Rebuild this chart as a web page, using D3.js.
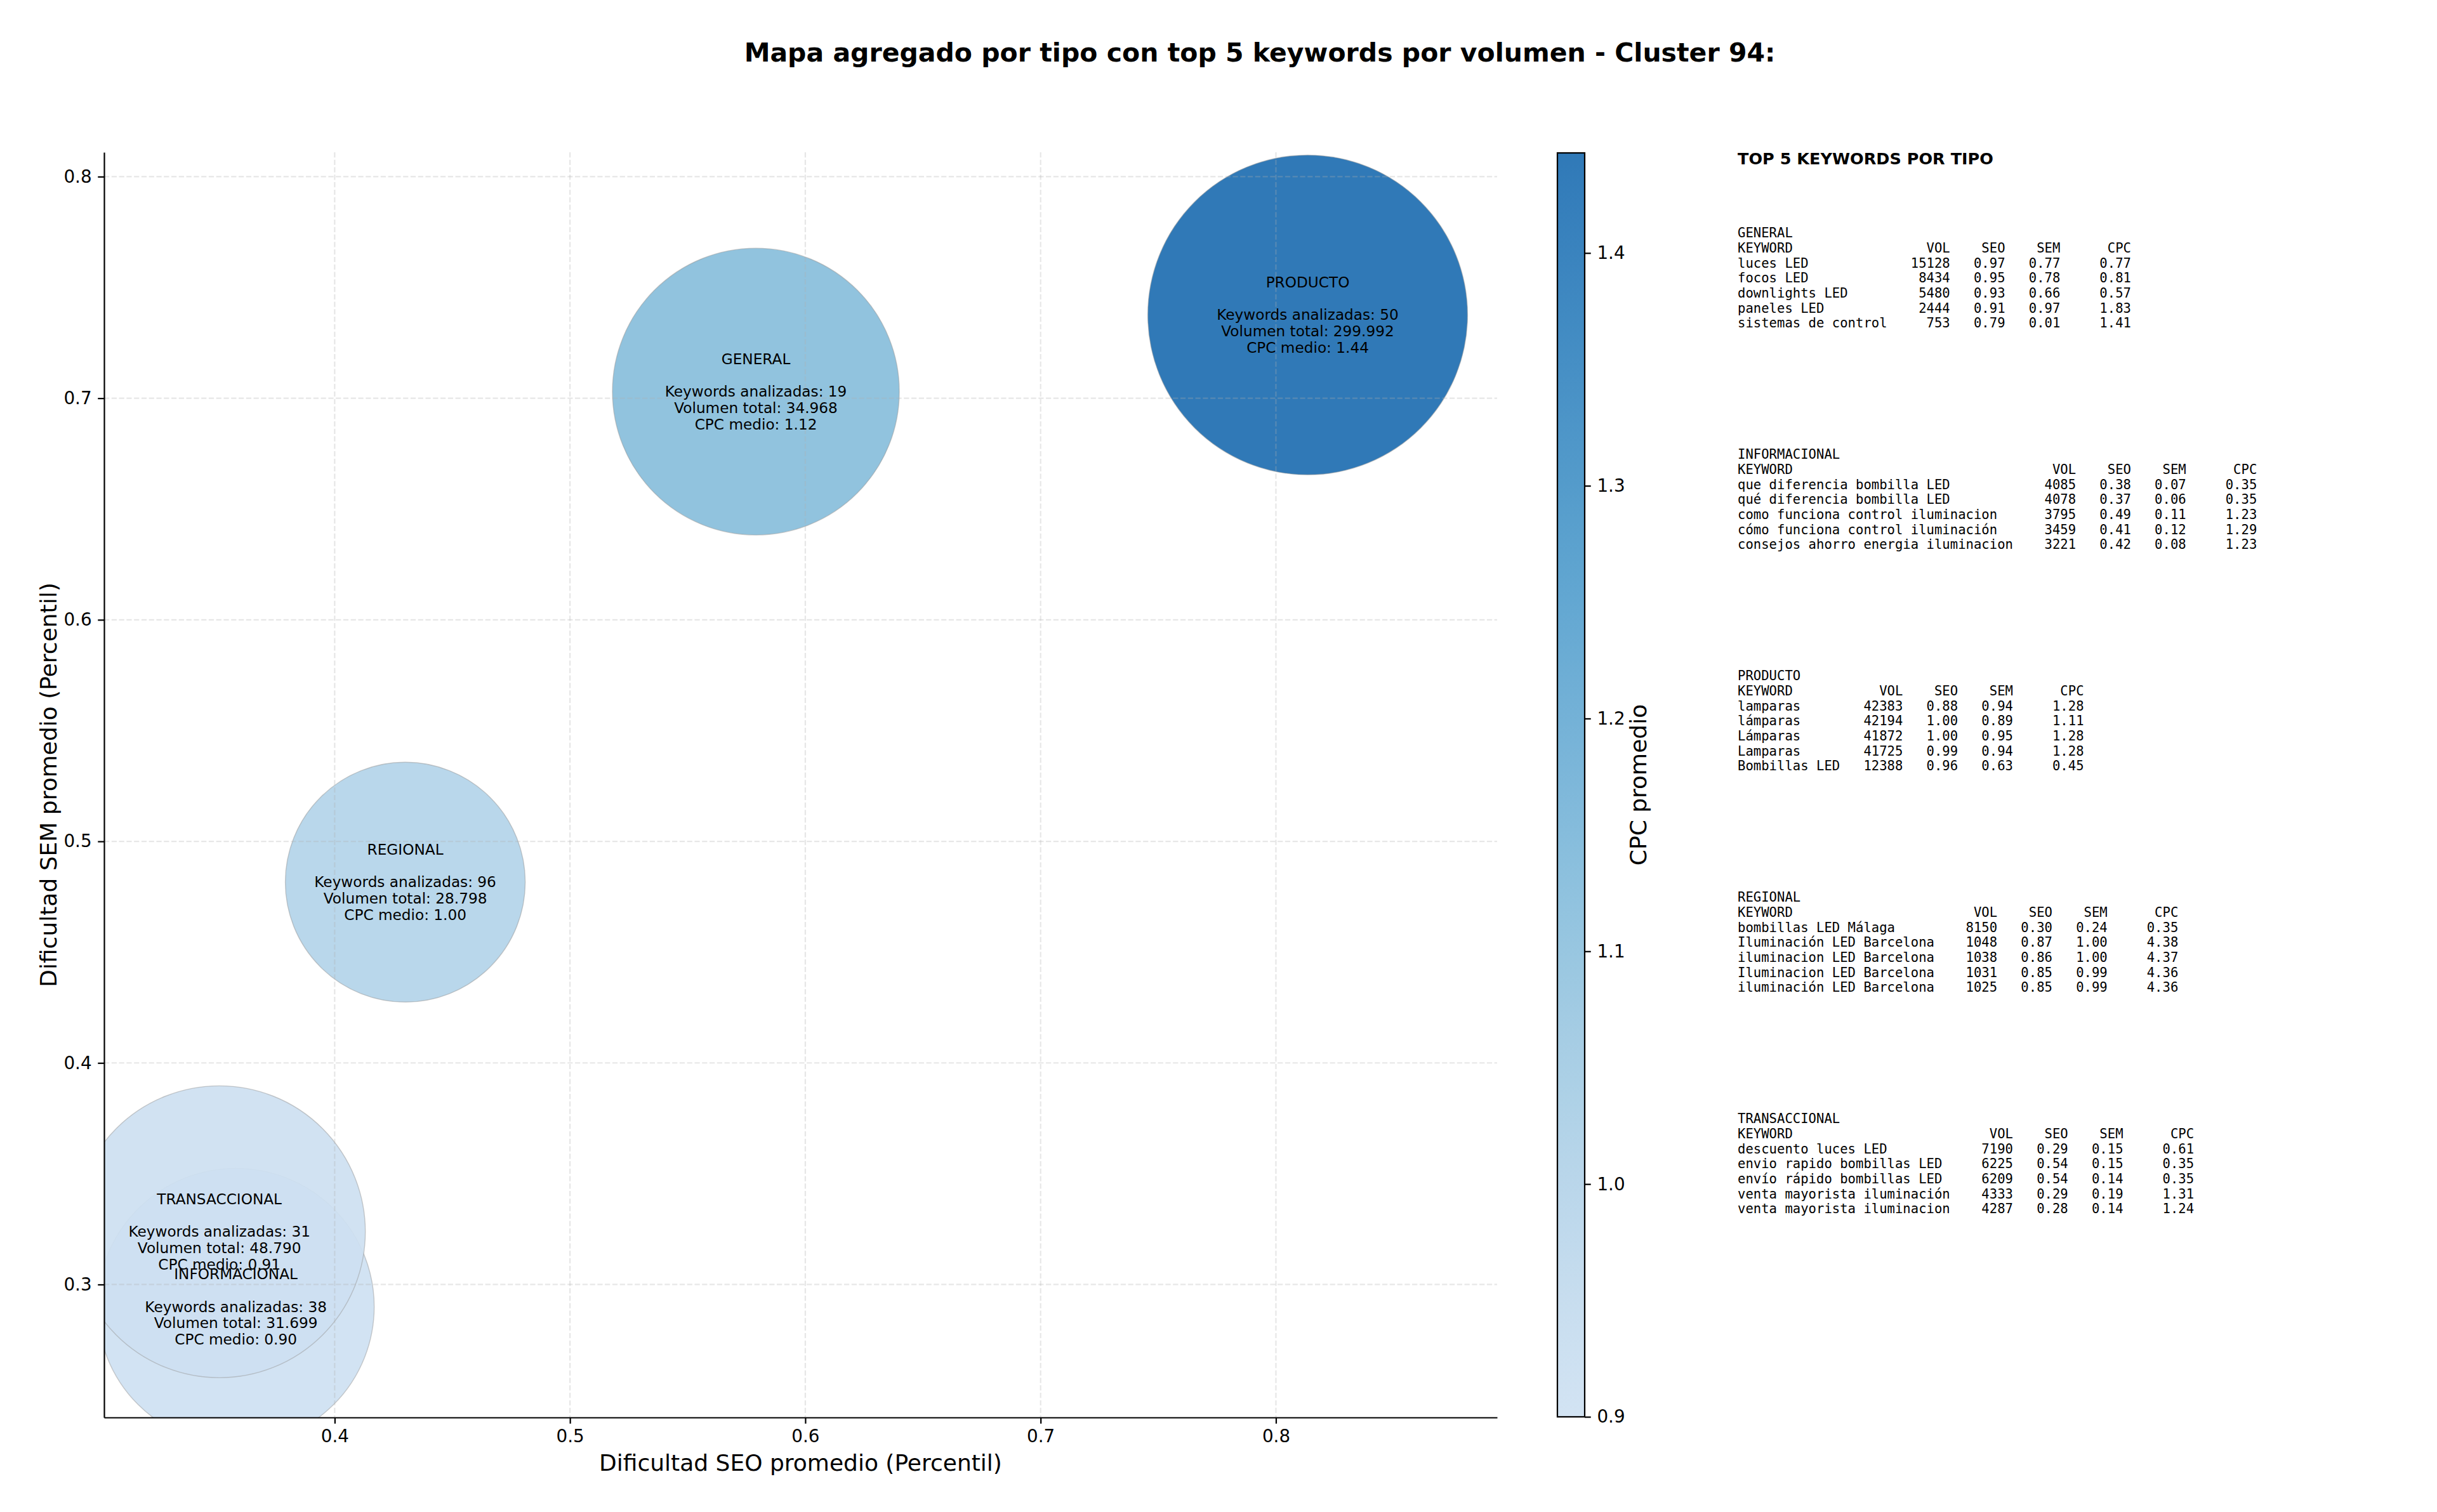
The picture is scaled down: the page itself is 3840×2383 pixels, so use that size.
<!DOCTYPE html>
<html>
<head>
<meta charset="utf-8">
<script src="https://cdn.jsdelivr.net/npm/d3@7"></script>
<style>
  body { margin: 0; background: #fff; }
  text { font-family: "DejaVu Sans", sans-serif; fill: #000; }
  .mono { font-family: "DejaVu Sans Mono", monospace; white-space: pre; }
</style>
</head>
<body>
<script>
// ---- datos agregados por tipo
var types = ["GENERAL", "INFORMACIONAL", "PRODUCTO", "REGIONAL", "TRANSACCIONAL"];
var seoAvg = [0.579, 0.358, 0.8135, 0.430, 0.351];
var semAvg = [0.703, 0.290, 0.7376, 0.4816, 0.3238];
var cpcAvg = [1.12, 0.90, 1.443, 1.00, 0.91];
var kwCount = [19, 38, 50, 96, 31];
var volTotal = [34968, 31699, 299992, 28798, 48790];
var bubbleSize = [26480, 24640, 32900, 18520, 27423]; // tamaño scatter (pt^2)

var xTicks = [0.4, 0.5, 0.6, 0.7, 0.8];
var yTicks = [0.3, 0.4, 0.5, 0.6, 0.7, 0.8];
var cbTicks = [0.9, 1.0, 1.1, 1.2, 1.3, 1.4];

// ---- top 5 keywords por tipo: [keyword, vol, seo, sem, cpc]
var topGeneral = [
  ["luces LED", 15128, 0.97, 0.77, 0.77],
  ["focos LED", 8434, 0.95, 0.78, 0.81],
  ["downlights LED", 5480, 0.93, 0.66, 0.57],
  ["paneles LED", 2444, 0.91, 0.97, 1.83],
  ["sistemas de control", 753, 0.79, 0.01, 1.41]
];
var topInformacional = [
  ["que diferencia bombilla LED", 4085, 0.38, 0.07, 0.35],
  ["qué diferencia bombilla LED", 4078, 0.37, 0.06, 0.35],
  ["como funciona control iluminacion", 3795, 0.49, 0.11, 1.23],
  ["cómo funciona control iluminación", 3459, 0.41, 0.12, 1.29],
  ["consejos ahorro energia iluminacion", 3221, 0.42, 0.08, 1.23]
];
var topProducto = [
  ["lamparas", 42383, 0.88, 0.94, 1.28],
  ["lámparas", 42194, 1.00, 0.89, 1.11],
  ["Lámparas", 41872, 1.00, 0.95, 1.28],
  ["Lamparas", 41725, 0.99, 0.94, 1.28],
  ["Bombillas LED", 12388, 0.96, 0.63, 0.45]
];
var topRegional = [
  ["bombillas LED Málaga", 8150, 0.30, 0.24, 0.35],
  ["Iluminación LED Barcelona", 1048, 0.87, 1.00, 4.38],
  ["iluminacion LED Barcelona", 1038, 0.86, 1.00, 4.37],
  ["Iluminacion LED Barcelona", 1031, 0.85, 0.99, 4.36],
  ["iluminación LED Barcelona", 1025, 0.85, 0.99, 4.36]
];
var topTransaccional = [
  ["descuento luces LED", 7190, 0.29, 0.15, 0.61],
  ["envio rapido bombillas LED", 6225, 0.54, 0.15, 0.35],
  ["envío rápido bombillas LED", 6209, 0.54, 0.14, 0.35],
  ["venta mayorista iluminación", 4333, 0.29, 0.19, 1.31],
  ["venta mayorista iluminacion", 4287, 0.28, 0.14, 1.24]
];
var topTables = [topGeneral, topInformacional, topProducto, topRegional, topTransaccional];

// ---- layout
var W = 3840, H = 2383;
var plot = {left: 164, right: 2359, top: 240, bottom: 2234};
var cbar = {left: 2454, right: 2497, top: 241, bottom: 2233};
var pt = 200 / 72;
var tickLen = 3.5 * pt, tickFont = 10 * pt, labelFont = 36;

var svg = d3.select("body").append("svg")
  .attr("width", W).attr("height", H);

var x = d3.scaleLinear().domain([0.302, 0.894]).range([plot.left, plot.right]);
var y = d3.scaleLinear().domain([0.240, 0.811]).range([plot.bottom, plot.top]);
var r = d3.scaleSqrt().domain([0, 1]).range([0, pt / 2]);
var cDomain = d3.extent(cpcAvg);
var colorT = d3.scaleLinear().domain(cDomain).range([0.2, 0.76]);
var color = function(v) { return d3.interpolateBlues(colorT(v)); };
var bubbleAlpha = 0.93;

var fmtVol = function(v) { return d3.format(",")(v).replace(/,/g, "."); };

svg.append("defs").append("clipPath").attr("id", "clip")
  .append("rect")
  .attr("x", plot.left).attr("y", plot.top)
  .attr("width", plot.right - plot.left).attr("height", plot.bottom - plot.top);

// burbujas
var rows = types.map(function(t, i) {
  return {type: t, seo: seoAvg[i], sem: semAvg[i], cpc: cpcAvg[i],
          n: kwCount[i], vol: volTotal[i], s: bubbleSize[i]};
});

svg.append("g").attr("clip-path", "url(#clip)")
  .selectAll("circle").data(rows).enter().append("circle")
  .attr("cx", function(d) { return x(d.seo); })
  .attr("cy", function(d) { return y(d.sem); })
  .attr("r", function(d) { return r(d.s); })
  .style("fill", function(d) { return color(d.cpc); })
  .style("fill-opacity", bubbleAlpha)
  .style("stroke", "#999")
  .style("stroke-opacity", 0.5)
  .style("stroke-width", 1.4);

// grid (encima de las burbujas, como matplotlib)
var grid = svg.append("g").attr("class", "grid");
grid.selectAll(".gx").data(xTicks).enter().append("line")
  .attr("x1", x).attr("x2", x).attr("y1", plot.top).attr("y2", plot.bottom);
grid.selectAll(".gy").data(yTicks).enter().append("line")
  .attr("y1", y).attr("y2", y).attr("x1", plot.left).attr("x2", plot.right);
grid.selectAll("line")
  .style("stroke", "#b0b0b0").style("stroke-opacity", 0.3)
  .style("stroke-width", 0.8 * pt).style("stroke-dasharray", (2.96 * pt) + "," + (1.28 * pt));

// etiquetas de burbujas
var lineH = 25.8;
rows.forEach(function(d) {
  var lines = [d.type, "", "Keywords analizadas: " + d.n,
               "Volumen total: " + fmtVol(d.vol), "CPC medio: " + d.cpc.toFixed(2)];
  var t = svg.append("text")
    .attr("text-anchor", "middle")
    .style("font-size", "23.2px");
  lines.forEach(function(l, j) {
    t.append("tspan")
      .attr("x", x(d.seo))
      .attr("y", y(d.sem) + (j - 2) * lineH)
      .attr("dy", "0.35em")
      .text(l);
  });
});

// ejes
function styleAxis(g) {
  g.select(".domain").style("stroke", "#000").style("stroke-width", 0.8 * pt);
  g.selectAll(".tick line").style("stroke", "#000").style("stroke-width", 0.8 * pt);
  g.selectAll(".tick text").style("font-family", "DejaVu Sans").style("font-size", tickFont + "px").style("fill", "#000");
}

svg.append("g")
  .attr("transform", "translate(0," + plot.bottom + ")")
  .call(d3.axisBottom(x).tickValues(xTicks).tickFormat(d3.format(".1f"))
        .tickSize(tickLen).tickSizeOuter(0).tickPadding(3.5 * pt))
  .call(styleAxis);

svg.append("g")
  .attr("transform", "translate(" + plot.left + ",0)")
  .call(d3.axisLeft(y).tickValues(yTicks).tickFormat(d3.format(".1f"))
        .tickSize(tickLen).tickSizeOuter(0).tickPadding(3.5 * pt))
  .call(styleAxis);

svg.append("text")
  .attr("x", (plot.left + plot.right) / 2).attr("y", 2305).attr("dy", "0.35em")
  .attr("text-anchor", "middle").style("font-size", labelFont + "px")
  .text("Dificultad SEO promedio (Percentil)");

svg.append("text")
  .attr("transform", "translate(76," + (plot.top + plot.bottom) / 2 + ") rotate(-90)")
  .attr("dy", "0.35em").attr("text-anchor", "middle").style("font-size", labelFont + "px")
  .text("Dificultad SEM promedio (Percentil)");

// barra de color
var cy = d3.scaleLinear().domain(cDomain).range([cbar.bottom, cbar.top]);
var grad = svg.select("defs").append("linearGradient")
  .attr("id", "cbgrad").attr("x1", 0).attr("x2", 0).attr("y1", 1).attr("y2", 0);
d3.range(0, 1.0001, 0.05).forEach(function(f) {
  grad.append("stop").attr("offset", f)
    .attr("stop-color", color(cDomain[0] + f * (cDomain[1] - cDomain[0])))
    .attr("stop-opacity", bubbleAlpha);
});
svg.append("rect")
  .attr("x", cbar.left).attr("y", cbar.top)
  .attr("width", cbar.right - cbar.left).attr("height", cbar.bottom - cbar.top)
  .style("fill", "url(#cbgrad)")
  .style("stroke", "#000").style("stroke-width", 0.8 * pt);

svg.append("g")
  .attr("transform", "translate(" + cbar.right + ",0)")
  .call(d3.axisRight(cy).tickValues(cbTicks).tickFormat(d3.format(".1f"))
        .tickSize(tickLen).tickSizeOuter(0).tickPadding(3.5 * pt))
  .call(styleAxis)
  .call(function(g) { g.select(".domain").remove(); });

svg.append("text")
  .attr("transform", "translate(2581," + (cbar.top + cbar.bottom) / 2 + ") rotate(-90)")
  .attr("dy", "0.35em").attr("text-anchor", "middle").style("font-size", labelFont + "px")
  .text("CPC promedio");

// título
svg.append("text")
  .attr("x", 1985).attr("y", 83).attr("dy", "0.35em")
  .attr("text-anchor", "middle")
  .style("font-size", "41px").style("font-weight", "bold")
  .text("Mapa agregado por tipo con top 5 keywords por volumen - Cluster 94:");

// tabla de keywords
var tableX = 2738, tableTop = 250, blockY0 = 367, blockStep = 349, rowH = 23.7;
svg.append("text")
  .attr("x", tableX).attr("y", tableTop).attr("dy", "0.35em")
  .style("font-size", "25.5px").style("font-weight", "bold")
  .text("TOP 5 KEYWORDS POR TIPO");

topTables.forEach(function(tab, i) {
  var w = d3.max(tab, function(d) { return d[0].length; }) + 1;
  var lines = [types[i],
    "KEYWORD".padEnd(w) + "VOL".padStart(7) + "SEO".padStart(7) + "SEM".padStart(7) + "CPC".padStart(9)];
  tab.forEach(function(d) {
    lines.push(d[0].padEnd(w) + String(d[1]).padStart(7) + d[2].toFixed(2).padStart(7) +
               d[3].toFixed(2).padStart(7) + d[4].toFixed(2).padStart(9));
  });
  var t = svg.append("text").attr("class", "mono")
    .attr("xml:space", "preserve")
    .style("font-size", "20.6px");
  lines.forEach(function(l, j) {
    t.append("tspan")
      .attr("x", tableX)
      .attr("y", blockY0 + i * blockStep + j * rowH)
      .attr("dy", "0.35em")
      .text(l);
  });
});
</script>
</body>
</html>
